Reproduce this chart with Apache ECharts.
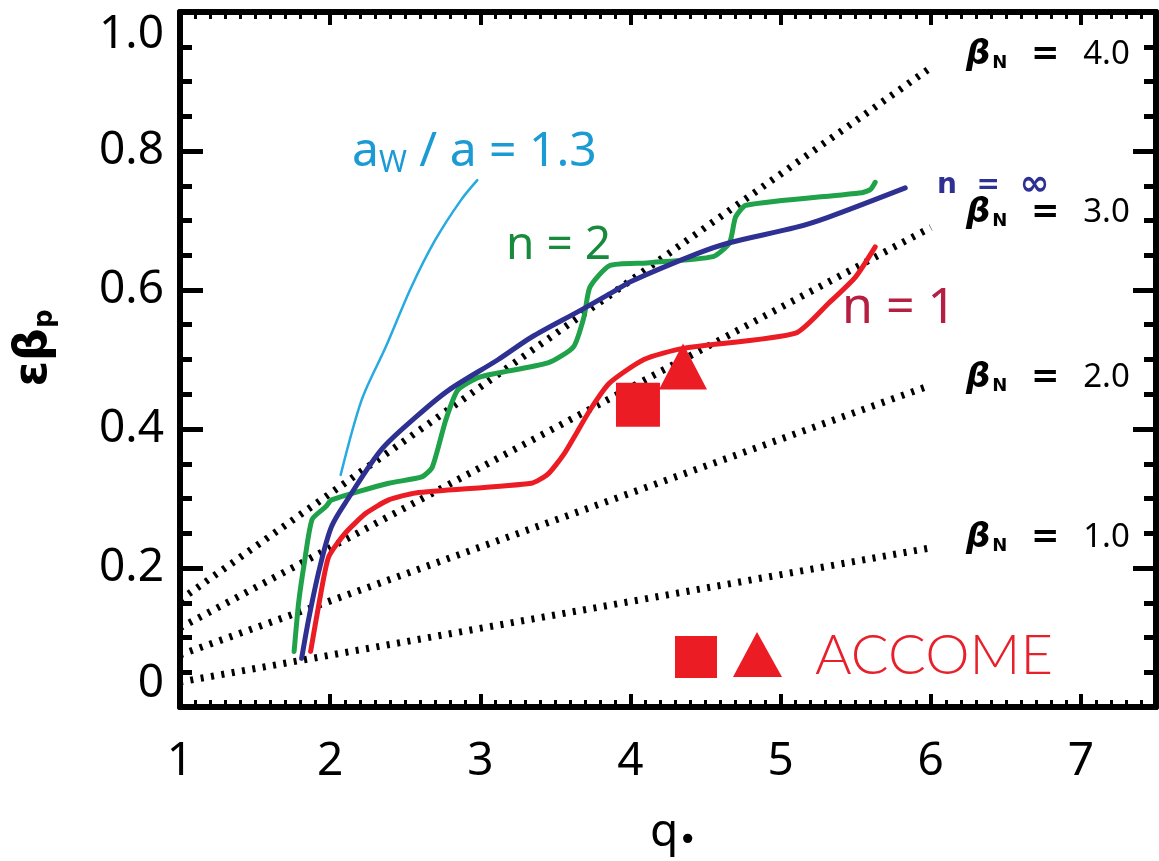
<!DOCTYPE html>
<html>
<head>
<meta charset="utf-8">
<script src="https://cdn.jsdelivr.net/npm/echarts@6/dist/echarts.min.js"></script>
<style>
html,body{margin:0;padding:0;background:#fff;}
#chart{width:1159px;height:861px;}
</style>
</head>
<body>
<div id="chart"></div>
<script>
// ---- data (q*, eps*beta_p) ----
const xTickLabels = ['1','2','3','4','5','6','7'];
const yTickLabels = ['0','0.2','0.4','0.6','0.8','1.0'];

const nInf = [[1.81,0.07],[1.86,0.13],[1.93,0.20],[2.01,0.26],[2.12,0.30],[2.34,0.37],[2.57,0.417],[2.79,0.456],[3.12,0.50],[3.34,0.532],[3.67,0.571],[3.89,0.598],[4.0,0.612],[4.44,0.652],[4.66,0.668],[5.10,0.69],[5.32,0.705],[5.83,0.747]];
const n2 = [[1.76,0.08],[1.79,0.15],[1.83,0.21],[1.88,0.27],[1.97,0.288],[2.01,0.298],[2.39,0.322],[2.61,0.331],[2.68,0.345],[2.77,0.413],[2.85,0.456],[3.0,0.475],[3.45,0.495],[3.62,0.518],[3.69,0.561],[3.73,0.604],[3.86,0.635],[4.11,0.639],[4.55,0.648],[4.66,0.668],[4.70,0.705],[4.77,0.722],[5.54,0.74],[5.60,0.745],[5.63,0.755]];
const n1 = [[1.87,0.08],[1.93,0.154],[1.99,0.216],[2.10,0.25],[2.24,0.279],[2.39,0.298],[2.57,0.308],[3.34,0.322],[3.45,0.335],[3.56,0.365],[3.73,0.427],[3.86,0.466],[4.09,0.50],[4.35,0.516],[5.10,0.538],[5.32,0.581],[5.50,0.619],[5.63,0.662]];
const wall13 = [[2.07,0.334],[2.21,0.442],[2.37,0.518],[2.54,0.604],[2.70,0.672],[2.87,0.729],[2.98,0.758]];

const betaN4 = [[1,0.154],[6,0.92]];
const betaN3 = [[1,0.114],[6,0.69]];
const betaN2 = [[1,0.075],[6,0.463]];
const betaN1 = [[1,0.036],[6,0.229]];

const accomeSquare = [[4.05,0.435]];
const accomeTriangle = [[4.35,0.49]];

// ---- chart ----
const chart = echarts.init(document.getElementById('chart'), null, {renderer:'canvas'});
const axisLine = {show:true, onZero:false, lineStyle:{color:'#000', width:6}};
const tickFont = {fontFamily:'Noto Sans', fontSize:46, color:'#000'};

function xAxisCfg(pos, labels){
  return {
    type:'value', position:pos, min:1, max:7.5, interval:1,
    axisLine:axisLine,
    axisTick:{show:true, inside:true, length:13, lineStyle:{color:'#000', width:4}},
    minorTick:{show:true, splitNumber:10, length:7, lineStyle:{color:'#000', width:3}},
    splitLine:{show:false}, minorSplitLine:{show:false},
    axisLabel: labels ? Object.assign({show:true, margin:32,
      formatter:function(v){ const i = Math.round(v)-1; return (Math.abs(v-Math.round(v))<1e-9 && xTickLabels[i]) ? xTickLabels[i] : ''; }}, tickFont) : {show:false}
  };
}
function yAxisCfg(pos, labels){
  return {
    type:'value', position:pos, min:0, max:1, interval:0.2,
    axisLine:axisLine,
    axisTick:{show:true, inside:true, length:23, lineStyle:{color:'#000', width:5}},
    minorTick:{show:true, splitNumber:4, length:12, lineStyle:{color:'#000', width:5}},
    splitLine:{show:false}, minorSplitLine:{show:false},
    axisLabel: labels ? Object.assign({show:true, margin:16,
      verticalAlignMinLabel:'bottom', verticalAlignMaxLabel:'top',
      formatter:function(v){ const i = Math.round(v/0.2); return yTickLabels[i] || ''; }}, tickFont) : {show:false}
  };
}

function lineSeries(name, data, color, width, smooth){
  return {name:name, type:'line', data:data, symbol:'none', smooth:smooth||false,
    lineStyle:{color:color, width:width, cap:'round', join:'round', opacity:1}, z:3, silent:true, clip:true};
}
function dotted(name, data){
  return {name:name, type:'line', data:data, symbol:'none',
    lineStyle:{color:'#000', width:7, type:[3,7.5], cap:'butt', opacity:1}, z:2, silent:true};
}

const betaRich = {
  b:{fontFamily:'DejaVu Sans', fontWeight:'bold', fontStyle:'italic', fontSize:34, fill:'#000'},
  s:{fontFamily:'DejaVu Sans', fontWeight:'bold', fontSize:18, fill:'#000', padding:[16,0,0,2]},
  e:{fontFamily:'DejaVu Sans', fontWeight:'bold', fontSize:34, fill:'#000'},
  v:{fontFamily:'Noto Sans', fontSize:33, fill:'#000'}
};
function betaLabel(val, y){
  return {type:'text', x:966, y:y, style:{text:'{b|β}{s|N}{e|  =  }{v|'+val+'}', rich:betaRich, verticalAlign:'middle', align:'left'}, z:10};
}

const option = {
  backgroundColor:'#fff',
  animation:false,
  grid:{left:180, right:-6, top:12, bottom:154, containLabel:false},
  xAxis:[xAxisCfg('bottom', true), xAxisCfg('top', false)],
  yAxis:[yAxisCfg('left', true), yAxisCfg('right', false)],
  series:[
    dotted('βN=4.0', betaN4),
    dotted('βN=3.0', betaN3),
    dotted('βN=2.0', betaN2),
    dotted('βN=1.0', betaN1),
    lineSeries('aw/a=1.3', wall13, '#27a9e1', 2.5, 0.3),
    lineSeries('n=1', n1, '#ec1c24', 5, 0.2),
    lineSeries('n=2', n2, '#20a24b', 5, 0.2),
    lineSeries('n=∞', nInf, '#2e3192', 5, 0.3),
    {name:'ACCOME square', type:'scatter', data:accomeSquare, symbol:'rect', symbolSize:44,
      itemStyle:{color:'#ec1c24', opacity:1}, z:5, silent:true},
    {name:'ACCOME triangle', type:'scatter', data:accomeTriangle, symbol:'triangle', symbolSize:[48,46],
      itemStyle:{color:'#ec1c24', opacity:1}, z:5, silent:true}
  ],
  graphic:[
    betaLabel('4.0', 55),
    betaLabel('3.0', 213),
    betaLabel('2.0', 378),
    betaLabel('1.0', 538),
    {type:'text', x:937, y:186, style:{text:'{n|n  =  }{i|∞}', rich:{
        n:{fontFamily:'DejaVu Sans', fontWeight:'bold', fontSize:28, fill:'#2e3192'},
        i:{fontFamily:'DejaVu Sans', fontWeight:'bold', fontSize:36, fill:'#2e3192'}
      }, verticalAlign:'middle', align:'left'}, z:10},
    {type:'text', x:506, y:246, style:{text:'n = 2', fill:'#178a3c', fontFamily:'Noto Sans', fontSize:46, verticalAlign:'middle', align:'left'}, z:10},
    {type:'text', x:842, y:309, style:{text:'n = 1', fill:'#b52042', fontFamily:'Noto Sans', fontSize:50, verticalAlign:'middle', align:'left'}, z:10},
    {type:'text', x:352, y:152, style:{text:'{a|a}{w|W}{a| / a = 1.3}', rich:{
        a:{fontFamily:'Noto Sans', fontSize:48, fill:'#1b9ad3'},
        w:{fontFamily:'Noto Sans', fontSize:30, fill:'#1b9ad3', padding:[22,0,0,0]}
      }, verticalAlign:'middle', align:'left'}, z:10},
    {type:'rect', shape:{x:675, y:636, width:42, height:42}, style:{fill:'#ec1c24'}, z:10},
    {type:'polygon', shape:{points:[[757,632],[782,677],[733,677]]}, style:{fill:'#ec1c24'}, z:10},
    {type:'text', x:815, y:656, style:{text:'ACCOME', fill:'#e8202a', fontFamily:'Lato', fontWeight:300, fontSize:56, verticalAlign:'middle', align:'left'}, z:10},
    {type:'text', x:650, y:833, style:{text:'{q|q}{s|•}', rich:{
        q:{fontFamily:'Noto Sans', fontSize:46, fill:'#000'},
        s:{fontFamily:'DejaVu Sans', fontSize:32, fill:'#000', padding:[18,0,0,0]}
      }, verticalAlign:'middle', align:'left'}, z:10},
    {type:'text', x:34, y:348, rotation:Math.PI/2, style:{text:'{e|εβ}{s|p}', rich:{
        e:{fontFamily:'DejaVu Sans', fontWeight:'bold', fontSize:46, fill:'#000'},
        s:{fontFamily:'DejaVu Sans', fontWeight:'bold', fontSize:26, fill:'#000', padding:[22,0,0,0]}
      }, verticalAlign:'middle', align:'center'}, z:10}
  ]
};
chart.setOption(option);
</script>
</body>
</html>
